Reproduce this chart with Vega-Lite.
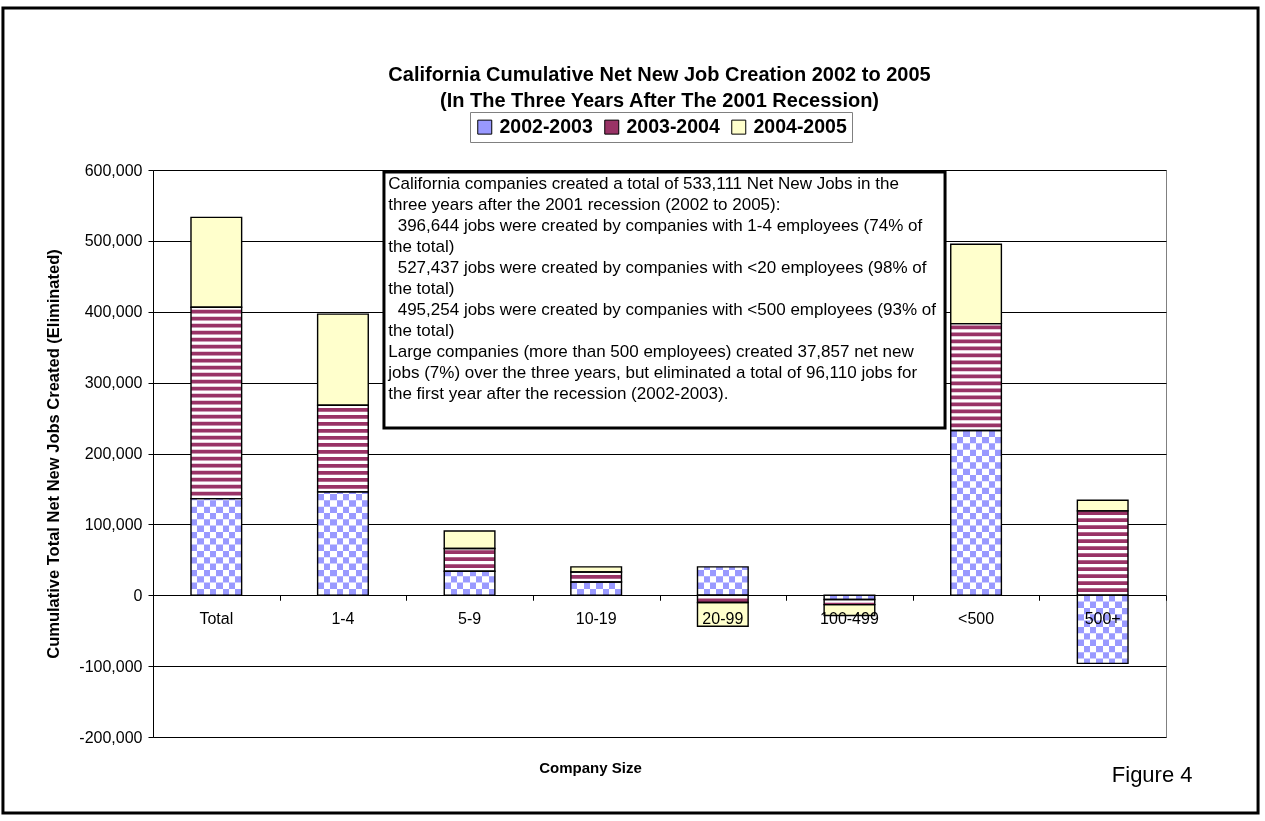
{
  "$schema": "https://vega.github.io/schema/vega-lite/v6.json",
  "width": 1013,
  "height": 567,
  "autosize": "none",
  "padding": {"left": 153, "top": 170, "right": 99, "bottom": 84},
  "background": "white",
  "config": {
    "font": "Liberation Sans",
    "view": {"stroke": "#808080", "strokeWidth": 1},
    "axis": {"labelColor": "black", "titleColor": "black", "labelFont": "Liberation Sans", "titleFont": "Liberation Sans"}
  },
  "title": {
    "text": ["California Cumulative Net New Job Creation 2002 to 2005", "(In The Three Years After The 2001 Recession)"],
    "fontSize": 20,
    "fontWeight": "bold",
    "font": "Liberation Sans",
    "lineHeight": 26,
    "color": "black",
    "anchor": "middle",
    "offset": -104
  },
  "datasets": {
    "jobs": [
      {"size": "Total", "year": "2002-2003", "value": 136290},
      {"size": "Total", "year": "2003-2004", "value": 270000},
      {"size": "Total", "year": "2004-2005", "value": 126821},
      {"size": "1-4", "year": "2002-2003", "value": 145800},
      {"size": "1-4", "year": "2003-2004", "value": 122200},
      {"size": "1-4", "year": "2004-2005", "value": 128644},
      {"size": "5-9", "year": "2002-2003", "value": 33900},
      {"size": "5-9", "year": "2003-2004", "value": 32000},
      {"size": "5-9", "year": "2004-2005", "value": 24800},
      {"size": "10-19", "year": "2002-2003", "value": 18800},
      {"size": "10-19", "year": "2003-2004", "value": 14100},
      {"size": "10-19", "year": "2004-2005", "value": 7193},
      {"size": "20-99", "year": "2002-2003", "value": 40000},
      {"size": "20-99", "year": "2003-2004", "value": -10300},
      {"size": "20-99", "year": "2004-2005", "value": -33400},
      {"size": "100-499", "year": "2002-2003", "value": -6100},
      {"size": "100-499", "year": "2003-2004", "value": -7100},
      {"size": "100-499", "year": "2004-2005", "value": -15283},
      {"size": "<500", "year": "2002-2003", "value": 232400},
      {"size": "<500", "year": "2003-2004", "value": 150900},
      {"size": "<500", "year": "2004-2005", "value": 111954},
      {"size": "500+", "year": "2002-2003", "value": -96110},
      {"size": "500+", "year": "2003-2004", "value": 119100},
      {"size": "500+", "year": "2004-2005", "value": 14867}
    ],
    "notes": [
      {"kind": "frame", "x1": -1.185, "x2": 8.727, "y1": 828500, "y2": -307300},
      {"kind": "box", "x1": 1.824, "x2": 6.255, "y1": 597200, "y2": 236000},
      {"kind": "note", "x1": 1.858, "y1": 592000, "label": "California companies created a total of 533,111 Net New Jobs in the\nthree years after the 2001 recession (2002 to 2005):\n\u200b\u00a0\u00a0396,644 jobs were created by companies with 1-4 employees (74% of\nthe total)\n\u200b\u00a0\u00a0527,437 jobs were created by companies with <20 employees (98% of\nthe total)\n\u200b\u00a0\u00a0495,254 jobs were created by companies with <500 employees (93% of\nthe total)\nLarge companies (more than 500 employees) created 37,857 net new\njobs (7%) over the three years, but eliminated a total of 96,110 jobs for\nthe first year after the recession (2002-2003)."},
      {"kind": "fig", "x1": 7.572, "y1": -254000, "label": "Figure 4"}
    ]
  },
  "layer": [
    {
      "data": {"name": "jobs"},
      "transform": [
        {"stack": "value", "groupby": ["size"], "sort": [{"field": "year", "order": "ascending"}], "as": ["v0", "v1"]}
      ],
      "layer": [
        {
          "mark": {"type": "bar"},
          "encoding": {
            "x": {
              "field": "size", "type": "nominal",
              "sort": ["Total", "1-4", "5-9", "10-19", "20-99", "100-499", "<500", "500+"],
              "scale": {"paddingInner": 0.6, "paddingOuter": 0.3},
              "axis": {
                "orient": "bottom", "offset": -141.75, "ticks": false, "domain": false, "grid": false,
                "labelPadding": 15, "labelFontSize": 16, "labelAngle": 0, "zindex": 1,
                "title": "Company Size", "titleFontSize": 15, "titleFontWeight": "bold",
                "titleX": 437, "titleAlign": "center", "titleAnchor": "start",
                "titleY": 172, "titleBaseline": "middle"
              }
            },
            "y": {
              "field": "v0", "type": "quantitative",
              "scale": {"domain": [-200000, 600000], "nice": false, "zero": false},
              "axis": {
                "values": [-200000, -100000, 0, 100000, 200000, 300000, 400000, 500000, 600000],
                "labelExpr": "replace(format(datum.value, ','), '\u2212', '-')",
                "labelFontSize": 16, "labelPadding": 6,
                "tickSize": 5, "tickColor": "black", "domainColor": "black",
                "grid": true, "gridColor": "black", "gridWidth": 1,
                "title": "Cumulative Total Net New Jobs Created (Eliminated)",
                "titleFontSize": 16.5, "titleFontWeight": "bold",
                "titleX": -100, "titleY": 283.5, "titleAngle": -90, "titleBaseline": "middle", "titleAlign": "center"
              }
            },
            "y2": {"field": "v1"},
            "color": {
              "field": "year", "type": "nominal",
              "scale": {"domain": ["2002-2003", "2003-2004", "2004-2005"], "range": ["#9999FF", "#993366", "#FFFFCC"]},
              "legend": {
                "orient": "none", "legendX": 317, "legendY": -58, "direction": "horizontal", "title": null,
                "symbolType": "square", "symbolSize": 196, "symbolStrokeColor": "black", "symbolStrokeWidth": 1,
                "labelFontSize": 19.5, "labelFontWeight": "bold", "labelColor": "black",
                "strokeColor": "#808080", "fillColor": "white", "padding": 5, "columnPadding": 9, "labelOffset": 5
              }
            }
          }
        },
        {
          "transform": [{"filter": "datum.year === '2002-2003'"}],
          "mark": {
            "type": "bar",
            "fill": {
              "gradient": "linear", "x1": 0, "y1": 0, "x2": 1, "y2": 0,
              "stops": [
                {"offset": 0, "color": "black"}, {"offset": 0.125, "color": "black"},
                {"offset": 0.125, "color": "white"}, {"offset": 0.25, "color": "white"},
                {"offset": 0.25, "color": "black"}, {"offset": 0.375, "color": "black"},
                {"offset": 0.375, "color": "white"}, {"offset": 0.5, "color": "white"},
                {"offset": 0.5, "color": "black"}, {"offset": 0.625, "color": "black"},
                {"offset": 0.625, "color": "white"}, {"offset": 0.75, "color": "white"},
                {"offset": 0.75, "color": "black"}, {"offset": 0.875, "color": "black"},
                {"offset": 0.875, "color": "white"}, {"offset": 1, "color": "white"}
              ]
            }
          },
          "encoding": {
            "x": {"field": "size", "type": "nominal", "sort": ["Total", "1-4", "5-9", "10-19", "20-99", "100-499", "<500", "500+"]},
            "y": {"field": "v0", "type": "quantitative"},
            "y2": {"field": "v1"}
          }
        },
        {
          "transform": [{"filter": "datum.year === '2002-2003'"}],
          "mark": {"type": "rule", "stroke": "white", "strokeWidth": 50, "strokeDash": [6.33, 6.33], "strokeCap": "butt", "blend": "difference"},
          "encoding": {
            "x": {"field": "size", "type": "nominal", "sort": ["Total", "1-4", "5-9", "10-19", "20-99", "100-499", "<500", "500+"]},
            "y": {"field": "v0", "type": "quantitative"},
            "y2": {"field": "v1"}
          }
        },
        {
          "transform": [{"filter": "datum.year === '2002-2003'"}],
          "mark": {"type": "bar", "fill": "#9999FF", "blend": "screen"},
          "encoding": {
            "x": {"field": "size", "type": "nominal", "sort": ["Total", "1-4", "5-9", "10-19", "20-99", "100-499", "<500", "500+"]},
            "y": {"field": "v0", "type": "quantitative"},
            "y2": {"field": "v1"}
          }
        },
        {
          "transform": [{"filter": "datum.year === '2003-2004'"}],
          "mark": {"type": "rule", "stroke": "white", "strokeWidth": 50, "strokeDash": [3.2, 3.8], "strokeCap": "butt"},
          "encoding": {
            "x": {"field": "size", "type": "nominal", "sort": ["Total", "1-4", "5-9", "10-19", "20-99", "100-499", "<500", "500+"]},
            "y": {"field": "v0", "type": "quantitative"},
            "y2": {"field": "v1"}
          }
        },
        {
          "mark": {"type": "bar", "fill": "transparent", "stroke": "black", "strokeWidth": 1.4},
          "encoding": {
            "x": {"field": "size", "type": "nominal", "sort": ["Total", "1-4", "5-9", "10-19", "20-99", "100-499", "<500", "500+"]},
            "y": {"field": "v0", "type": "quantitative"},
            "y2": {"field": "v1"}
          }
        }
      ]
    },
    {
      "data": {"name": "notes"},
      "layer": [
        {
          "transform": [{"filter": "datum.kind === 'frame'"}],
          "mark": {"type": "rect", "fill": "transparent", "stroke": "black", "strokeWidth": 3},
          "encoding": {
            "x": {
              "field": "x1", "type": "quantitative",
              "scale": {"domain": [0, 8], "nice": false, "zero": false},
              "axis": {
                "orient": "bottom", "offset": -141.75, "values": [0, 1, 2, 3, 4, 5, 6, 7, 8],
                "labels": false, "domain": false, "grid": false, "ticks": true,
                "tickSize": 5, "tickColor": "black", "tickWidth": 1, "title": null
              }
            },
            "x2": {"field": "x2"},
            "y": {"field": "y1", "type": "quantitative", "scale": {"domain": [-200000, 600000], "nice": false, "zero": false}},
            "y2": {"field": "y2"}
          }
        },
        {
          "transform": [{"filter": "datum.kind === 'box'"}],
          "mark": {"type": "rect", "fill": "white", "stroke": "black", "strokeWidth": 3},
          "encoding": {
            "x": {"field": "x1", "type": "quantitative"},
            "x2": {"field": "x2"},
            "y": {"field": "y1", "type": "quantitative"},
            "y2": {"field": "y2"}
          }
        },
        {
          "transform": [{"filter": "datum.kind === 'note'"}],
          "mark": {"type": "text", "align": "left", "baseline": "top", "fontSize": 17, "lineHeight": 21, "lineBreak": "\n", "color": "black"},
          "encoding": {
            "x": {"field": "x1", "type": "quantitative"},
            "y": {"field": "y1", "type": "quantitative"},
            "text": {"field": "label"}
          }
        },
        {
          "transform": [{"filter": "datum.kind === 'fig'"}],
          "mark": {"type": "text", "align": "left", "baseline": "middle", "fontSize": 22, "color": "black"},
          "encoding": {
            "x": {"field": "x1", "type": "quantitative"},
            "y": {"field": "y1", "type": "quantitative"},
            "text": {"field": "label"}
          }
        }
      ]
    }
  ],
  "resolve": {"scale": {"x": "independent"}}
}
